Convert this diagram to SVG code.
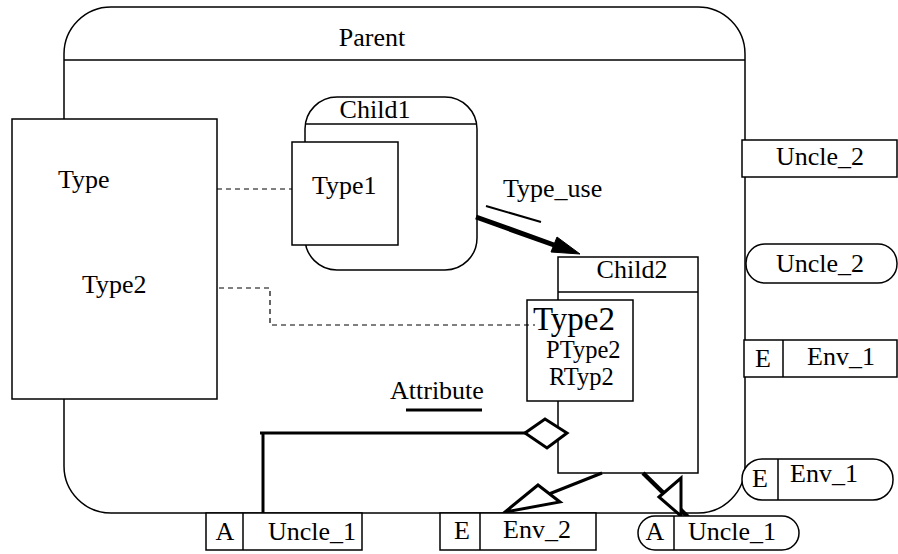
<svg xmlns="http://www.w3.org/2000/svg" width="898" height="554" viewBox="0 0 898 554">
<style>
  text { font-family: "Liberation Serif", "Times New Roman", serif; font-size: 26px; fill: #000; }
  .box { fill: #fff; stroke: #000; stroke-width: 1.5; }
  .ln { fill: none; stroke: #000; stroke-width: 1.5; }
  .dash { fill: none; stroke: #000; stroke-width: 1.2; stroke-dasharray: 5,4; }
  .thick { fill: none; stroke: #000; stroke-width: 3; }
  .c { text-anchor: middle; }
  .sm { font-size: 24.5px; }
</style>
<rect width="898" height="554" fill="#fff"/>

<g id="Parent">
  <rect x="64" y="7" width="681" height="506" rx="47" ry="47" class="ln"/>
  <line x1="64" y1="60" x2="745" y2="60" class="ln"/>
  <text x="372" y="46" class="c">Parent</text>
</g>

<g id="TypeBox">
  <rect x="12" y="119" width="205" height="280" class="box"/>
  <text x="58" y="188">Type</text>
  <text x="82" y="293">Type2</text>
</g>

<g id="Child1">
  <rect x="305" y="97" width="172" height="173" rx="32" ry="32" class="box"/>
  <line x1="305" y1="124" x2="477" y2="124" class="ln"/>
  <text x="375" y="118" class="c">Child1</text>
</g>

<g id="Type1">
  <rect x="292" y="142" width="106" height="103" class="box"/>
  <text x="312" y="194">Type1</text>
</g>

<g id="Child2">
  <rect x="558" y="257" width="140" height="216" class="box"/>
  <line x1="558" y1="292" x2="698" y2="292" class="ln"/>
  <text x="632" y="278" class="c">Child2</text>
</g>

<g id="Type2">
  <rect x="527" y="300" width="106" height="101" class="box"/>
  <text x="533" y="330" style="font-size:33px">Type2</text>
  <text x="546" y="358" class="sm">PType2</text>
  <text x="549" y="385" class="sm">RTyp2</text>
</g>

<g id="connectors">
  <line x1="217" y1="189" x2="292" y2="189" class="dash"/>
  <polyline points="219,288 270,288 270,325 535,325" class="dash"/>
  <!-- Type_use -->
  <line x1="476" y1="217" x2="554" y2="245" style="stroke:#000;stroke-width:5"/>
  <polygon points="580,254 551,252 557,237" fill="#000" stroke="#000" stroke-width="1"/>
  <line x1="486" y1="206" x2="541" y2="222" style="stroke:#000;stroke-width:2"/>
  <text x="503" y="197">Type_use</text>
  <!-- Attribute -->
  <polyline points="260,433 525,433" class="thick"/>
  <line x1="263" y1="433" x2="263" y2="513" class="thick"/>
  <polygon points="525,433 545,419 567,433 547,448" fill="#fff" stroke="#000" stroke-width="3"/>
  <line x1="406" y1="410" x2="482" y2="410" class="thick"/>
  <text x="390" y="399">Attribute</text>
  <!-- generalization to Env_2 -->
  <line x1="602" y1="473" x2="549" y2="494" class="thick"/>
  <polygon points="538,485 560,502 505,512" fill="#fff" stroke="#000" stroke-width="3" stroke-linejoin="miter"/>
  <!-- generalization to Uncle_1 -->
  <line x1="643" y1="473" x2="688" y2="517" style="stroke:#000;stroke-width:4.5"/>
  <polygon points="659,497 681,478 681,516" fill="#fff" stroke="#000" stroke-width="3"/>
</g>

<g id="Uncle_2_rect">
  <rect x="742" y="140" width="155" height="37" class="box"/>
  <text x="820" y="165" class="c">Uncle_2</text>
</g>

<g id="Uncle_2_round">
  <rect x="746" y="244" width="151" height="39" rx="19" ry="19" class="box"/>
  <text x="820" y="272" class="c">Uncle_2</text>
</g>

<g id="Env_1_rect">
  <rect x="744" y="340" width="153" height="37" class="box"/>
  <line x1="783" y1="340" x2="783" y2="377" class="ln"/>
  <text x="763" y="367" class="c">E</text>
  <text x="807" y="365">Env_1</text>
</g>

<g id="Env_1_round">
  <rect x="742" y="459" width="151" height="41" rx="20" ry="20" class="box"/>
  <line x1="778" y1="459" x2="778" y2="500" class="ln"/>
  <text x="760" y="487" class="c">E</text>
  <text x="790" y="482">Env_1</text>
</g>

<g id="Uncle_1_rect">
  <rect x="206" y="513" width="156" height="37" class="box"/>
  <line x1="243" y1="513" x2="243" y2="550" class="ln"/>
  <text x="225" y="540" class="c">A</text>
  <text x="268" y="540">Uncle_1</text>
</g>

<g id="Env_2">
  <rect x="440" y="513" width="156" height="37" class="box"/>
  <line x1="480" y1="513" x2="480" y2="550" class="ln"/>
  <text x="462" y="539" class="c">E</text>
  <text x="503" y="538">Env_2</text>
</g>

<g id="Uncle_1_round">
  <rect x="638" y="516" width="161" height="34" rx="17" ry="17" class="box"/>
  <line x1="674" y1="516" x2="674" y2="550" class="ln"/>
  <text x="655" y="540" class="c">A</text>
  <text x="688" y="540">Uncle_1</text>
</g>
</svg>
